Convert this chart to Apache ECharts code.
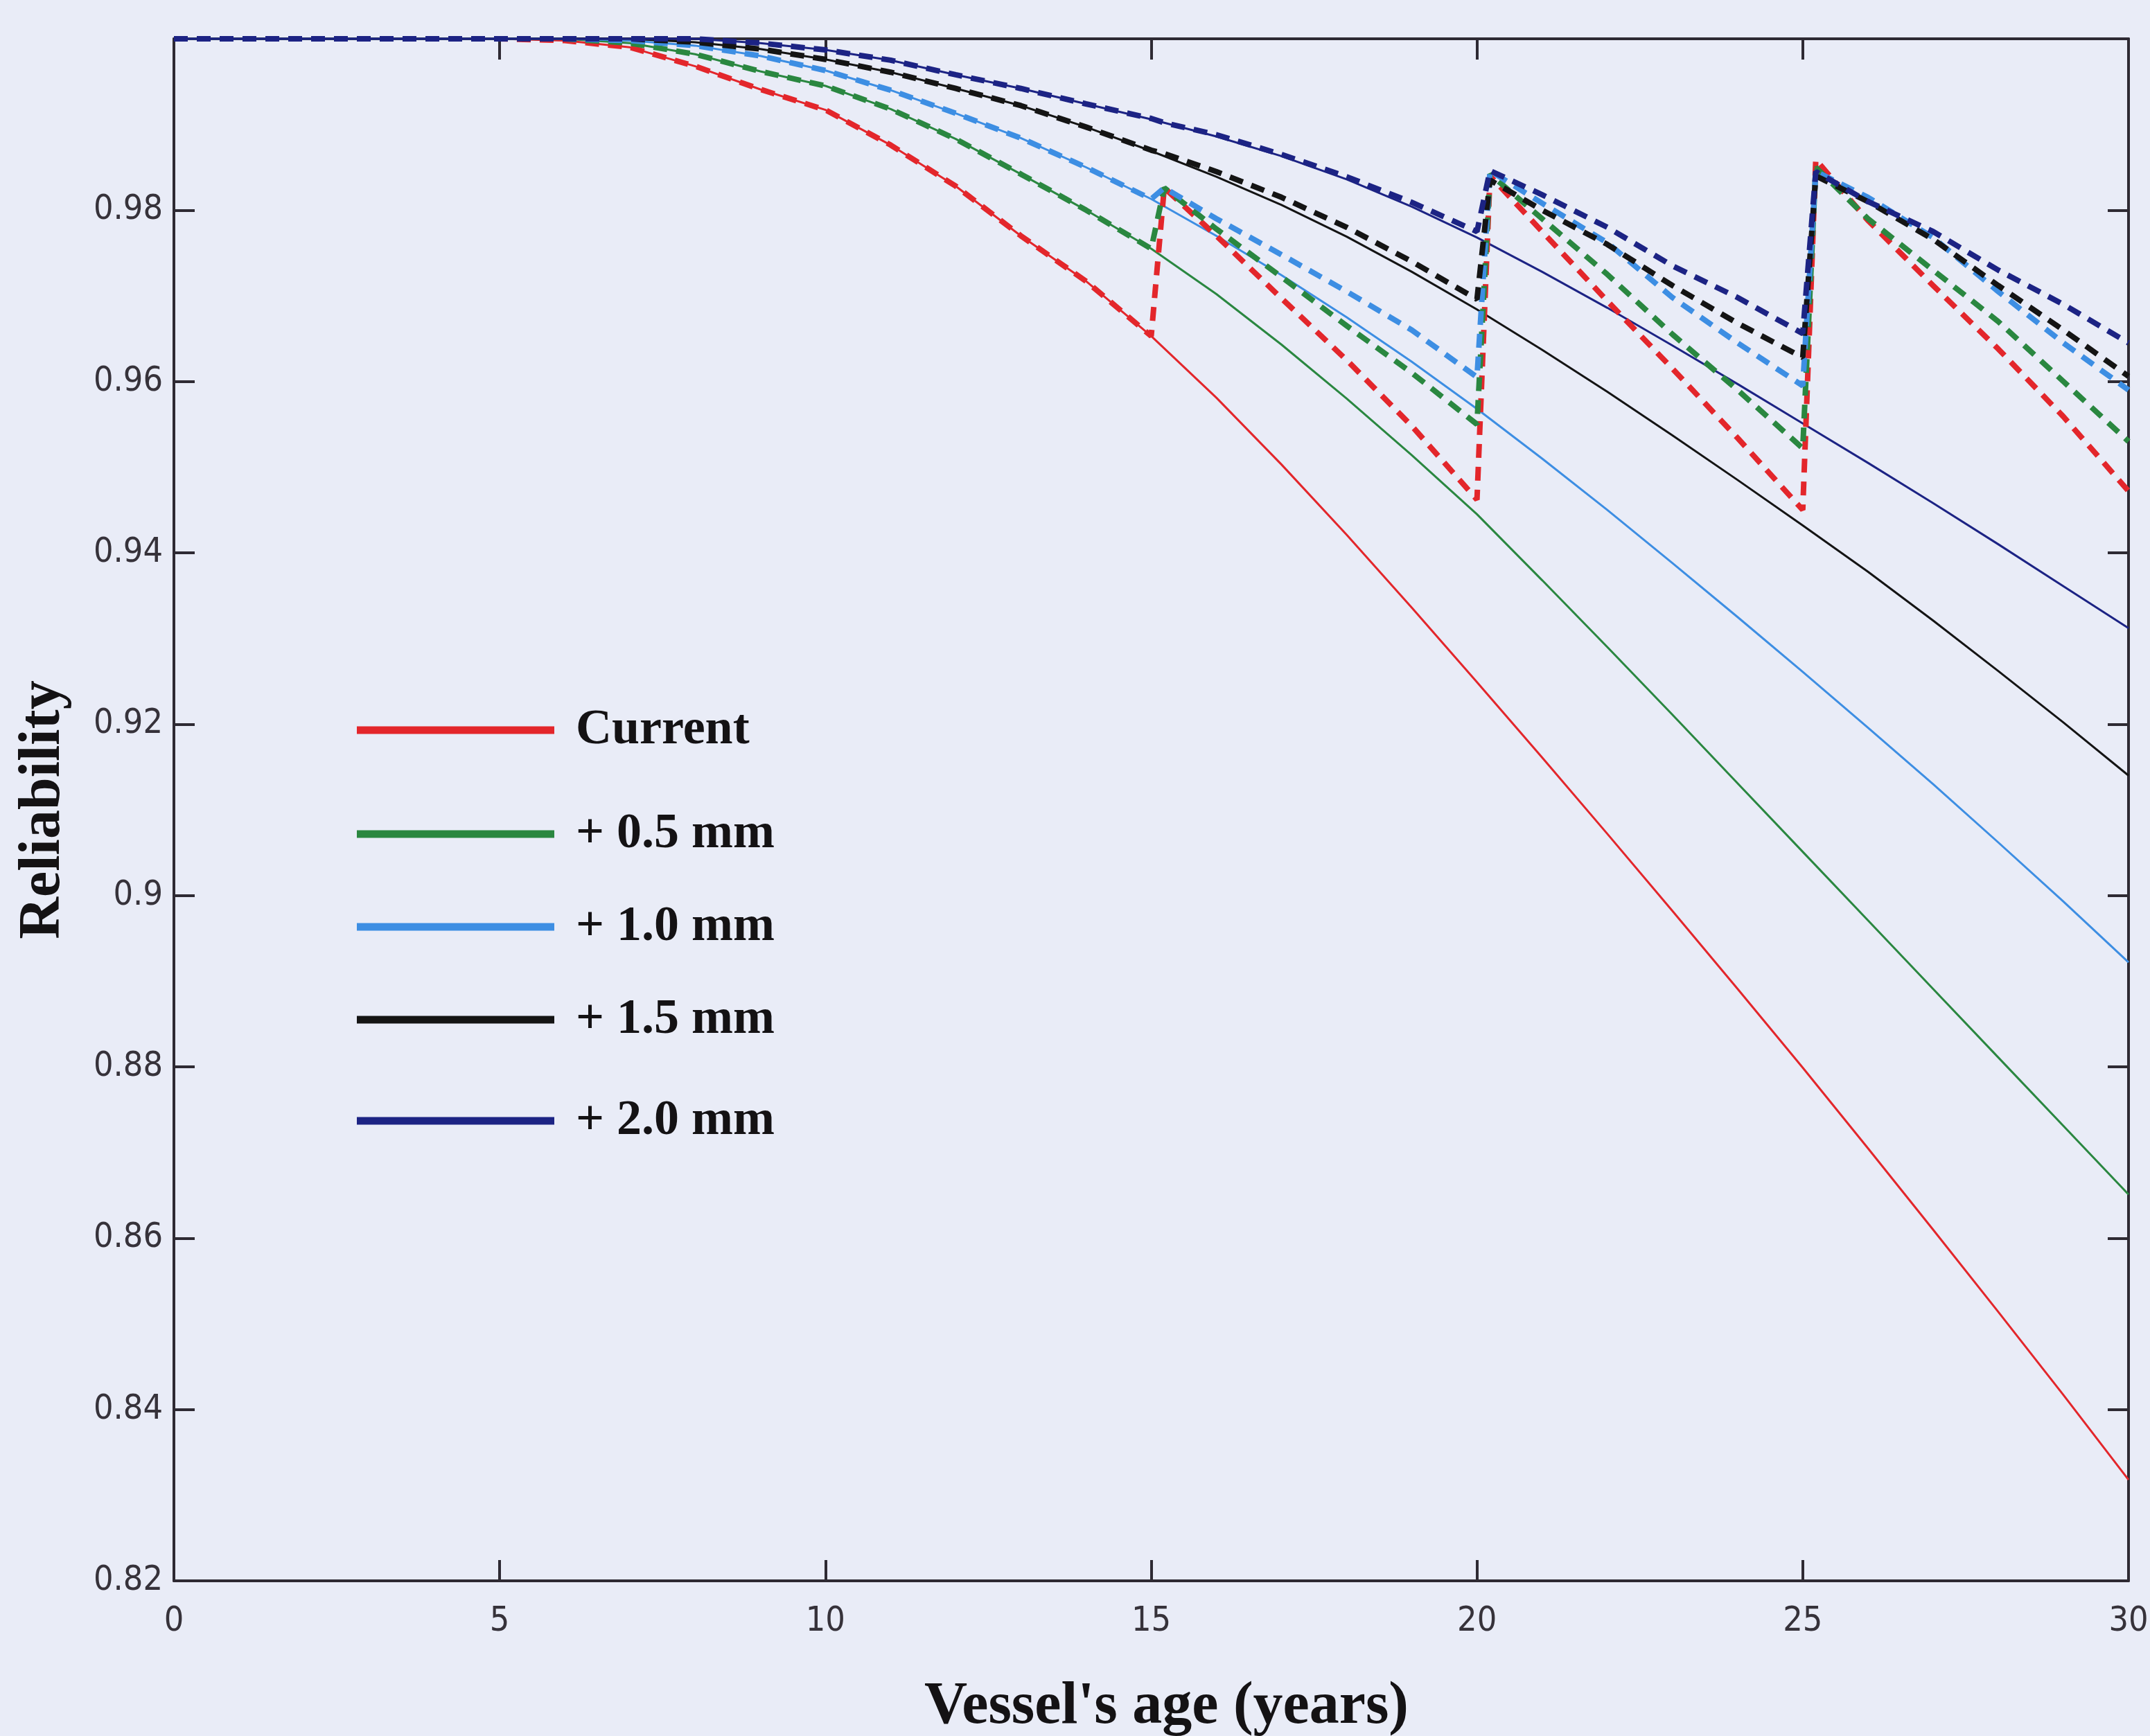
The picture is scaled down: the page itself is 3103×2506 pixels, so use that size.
<!DOCTYPE html>
<html>
<head>
<meta charset="utf-8">
<title>Reliability vs vessel's age</title>
<script src="https://cdn.jsdelivr.net/npm/echarts@6/dist/echarts.min.js"></script>
<style>
  html, body { margin: 0; padding: 0; background: #e9ecf7; }
  #chart { width: 3103px; height: 2506px; }
</style>
</head>
<body>
<div id="chart"></div>
<script>
// Vessel age (years) for the curves without renewal
const ageSolid = [0, 5, 6, 7, 8, 9, 10, 11, 12, 13, 14, 15, 16, 17, 18, 19, 20,
                  21, 22, 23, 24, 25, 26, 27, 28, 29, 30];
// Vessel age (years) for the curves with renewal at 15, 20 and 25 years
const ageRenewal = [0, 5, 6, 7, 8, 9, 10, 11, 12, 13, 14, 15, 15.2, 16, 17, 18, 19, 20, 20.2,
                    21, 22, 23, 24, 25, 25.2, 26, 27, 28, 29, 30];

const seriesNames = ['Current', '+ 0.5 mm', '+ 1.0 mm', '+ 1.5 mm', '+ 2.0 mm'];
const seriesColors = ['#e3262b', '#2a8740', '#3d8ee3', '#141414', '#1c2384'];

// Reliability without renewal
const relCurrent = [1, 1, 0.9998, 0.9990, 0.9968, 0.9941, 0.9917, 0.9876, 0.9828, 0.9770, 0.9717, 0.9653,
                    0.9581, 0.9503, 0.9421, 0.9336, 0.9249, 0.9161, 0.9072, 0.8982, 0.8891, 0.8799,
                    0.8705, 0.8610, 0.8514, 0.8417, 0.8318];
const rel05 = [1, 1, 1.0, 0.9995, 0.9982, 0.9962, 0.9945, 0.9918, 0.9883, 0.9842, 0.9800, 0.9755,
               0.9702, 0.9643, 0.9580, 0.9514, 0.9445, 0.9368, 0.9290, 0.9211, 0.9131, 0.9051,
               0.8971, 0.8891, 0.8811, 0.8731, 0.8651];
const rel10 = [1, 1, 1.0, 0.9998, 0.9992, 0.9980, 0.9963, 0.9940, 0.9913, 0.9884, 0.9850, 0.9813,
               0.9770, 0.9724, 0.9675, 0.9623, 0.9568, 0.9510, 0.9450, 0.9388, 0.9325, 0.9261,
               0.9196, 0.9130, 0.9062, 0.8993, 0.8922];
const rel15 = [1, 1, 1.0, 1.0, 0.9996, 0.9988, 0.9976, 0.9961, 0.9942, 0.9922, 0.9897, 0.9869,
               0.9839, 0.9806, 0.9769, 0.9728, 0.9684, 0.9637, 0.9588, 0.9537, 0.9485, 0.9432,
               0.9378, 0.9321, 0.9262, 0.9202, 0.9140];
const rel20 = [1, 1, 1.0, 1.0, 1.0, 0.9995, 0.9987, 0.9975, 0.9958, 0.9942, 0.9924, 0.9906,
               0.9886, 0.9863, 0.9836, 0.9804, 0.9768, 0.9728, 0.9686, 0.9642, 0.9597, 0.9551,
               0.9505, 0.9458, 0.9410, 0.9361, 0.9312];

// Reliability with renewal
const renCurrent = [1, 1, 0.9998, 0.9990, 0.9968, 0.9941, 0.9917, 0.9876, 0.9828, 0.9770, 0.9717, 0.9653, 0.9826,
                    0.9770, 0.9697, 0.9625, 0.9548, 0.9462, 0.9840,
                    0.9775, 0.9694, 0.9615, 0.9534, 0.9450, 0.9859,
                    0.9788, 0.9712, 0.9638, 0.9559, 0.9472];
const ren05 = [1, 1, 1.0, 0.9995, 0.9982, 0.9962, 0.9945, 0.9918, 0.9883, 0.9842, 0.9800, 0.9755, 0.9826,
               0.9778, 0.9722, 0.9665, 0.9610, 0.9550, 0.9842,
               0.9790, 0.9725, 0.9655, 0.9590, 0.9522, 0.9850,
               0.9790, 0.9730, 0.9670, 0.9600, 0.9530];
const ren10 = [1, 1, 1.0, 0.9998, 0.9992, 0.9980, 0.9963, 0.9940, 0.9913, 0.9884, 0.9850, 0.9813, 0.9826,
               0.9790, 0.9748, 0.9705, 0.9660, 0.9605, 0.9846,
               0.9808, 0.9762, 0.9698, 0.9645, 0.9595, 0.9845,
               0.9815, 0.9768, 0.9705, 0.9645, 0.9590];
const ren15 = [1, 1, 1.0, 1.0, 0.9996, 0.9988, 0.9976, 0.9961, 0.9942, 0.9922, 0.9897, 0.9870, 0.9866,
               0.9845, 0.9815, 0.9780, 0.9740, 0.9696, 0.9835,
               0.9800, 0.9760, 0.9712, 0.9668, 0.9628, 0.9840,
               0.9810, 0.9766, 0.9712, 0.9660, 0.9606];
const ren20 = [1, 1, 1.0, 1.0, 1.0, 0.9995, 0.9987, 0.9975, 0.9958, 0.9942, 0.9924, 0.9907, 0.9902,
               0.9888, 0.9865, 0.9839, 0.9809, 0.9775, 0.9846,
               0.9818, 0.9780, 0.9735, 0.9698, 0.9656, 0.9845,
               0.9810, 0.9775, 0.9730, 0.9690, 0.9645];

const xTicks = { min: 0, max: 30, interval: 5 };
const yTicks = { min: 0.82, max: 1.0, interval: 0.02 };

const solidSets = [relCurrent, rel05, rel10, rel15, rel20];
const renewalSets = [renCurrent, ren05, ren10, ren15, ren20];

// legend rows sit at slightly uneven heights
const legendRowCenters = [1054, 1204, 1338, 1472, 1618];

const pairs = (xs, ys) => xs.map((x, i) => [x, ys[i]]);

const series = [];
solidSets.forEach((vals, i) => {
  series.push({
    name: seriesNames[i],
    type: 'line',
    data: pairs(ageSolid, vals),
    showSymbol: false,
    clip: false,
    color: seriesColors[i],
    lineStyle: { width: 3, color: seriesColors[i] },
    z: 2
  });
});
renewalSets.forEach((vals, i) => {
  series.push({
    name: seriesNames[i],
    type: 'line',
    data: pairs(ageRenewal, vals),
    showSymbol: false,
    clip: false,
    color: seriesColors[i],
    lineStyle: { width: 8, color: seriesColors[i], type: [20, 13], cap: 'butt' },
    z: 3 + i
  });
});

const frameColor = '#2e2a33';
const axisLineStyle = { color: frameColor, width: 4 };
const tickStyle = { show: true, inside: true, length: 30, lineStyle: { color: frameColor, width: 4 } };
const tickLabelFont = { fontFamily: '"Liberation Sans Narrow", "DejaVu Sans Condensed", "Roboto Condensed", sans-serif',
                        fontSize: 50, color: '#36323a' };
const titleFont = { fontFamily: '"Liberation Serif", "Times New Roman", serif', fontWeight: 'bold', color: '#141214' };

const legends = seriesNames.map((name, i) => ({
  data: [{ name: name, icon: 'rect' }],
  left: 515,
  top: legendRowCenters[i] - 40,
  padding: 0,
  itemWidth: 285,
  itemHeight: 11,
  selectedMode: false,
  textStyle: Object.assign({}, titleFont, { fontSize: 72, lineHeight: 80, padding: [0, 0, 0, 26] })
}));

const chart = echarts.init(document.getElementById('chart'), null, { renderer: 'canvas' });
chart.setOption({
  animation: false,
  backgroundColor: '#e9ecf7',
  grid: { left: 251, right: 31, top: 56, bottom: 224, containLabel: false, outerBoundsMode: 'none' },
  legend: legends,
  xAxis: [
    {
      type: 'value', position: 'bottom',
      min: xTicks.min, max: xTicks.max, interval: xTicks.interval,
      name: "Vessel's age (years)", nameLocation: 'middle', nameGap: 140,
      nameTextStyle: Object.assign({}, titleFont, { fontSize: 86, padding: [0, 0, 0, 44] }),
      axisLine: { show: true, onZero: false, lineStyle: axisLineStyle },
      axisTick: tickStyle,
      axisLabel: Object.assign({ margin: 34 }, tickLabelFont),
      splitLine: { show: false }
    },
    {
      type: 'value', position: 'top',
      min: xTicks.min, max: xTicks.max, interval: xTicks.interval,
      axisLine: { show: true, onZero: false, lineStyle: axisLineStyle },
      axisTick: tickStyle,
      axisLabel: { show: false },
      splitLine: { show: false }
    }
  ],
  yAxis: [
    {
      type: 'value', position: 'left',
      min: yTicks.min, max: yTicks.max, interval: yTicks.interval,
      name: 'Reliability', nameLocation: 'middle', nameGap: 146, nameRotate: 90,
      nameTextStyle: Object.assign({}, titleFont, { fontSize: 84 }),
      axisLine: { show: true, onZero: false, lineStyle: axisLineStyle },
      axisTick: tickStyle,
      axisLabel: Object.assign({ margin: 16, showMaxLabel: false }, tickLabelFont),
      splitLine: { show: false }
    },
    {
      type: 'value', position: 'right',
      min: yTicks.min, max: yTicks.max, interval: yTicks.interval,
      axisLine: { show: true, onZero: false, lineStyle: axisLineStyle },
      axisTick: tickStyle,
      axisLabel: { show: false },
      splitLine: { show: false }
    }
  ],
  series: series
});
</script>
</body>
</html>
